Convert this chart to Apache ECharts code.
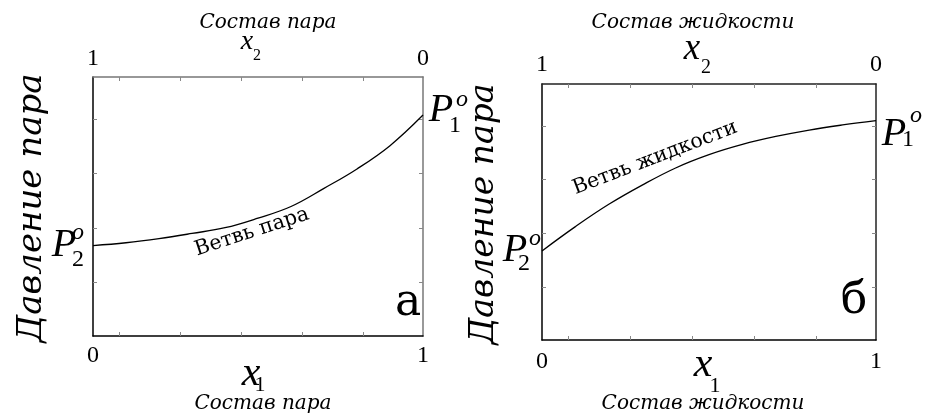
<!DOCTYPE html>
<html>
<head>
<meta charset="utf-8">
<script src="https://cdn.jsdelivr.net/npm/echarts@6/dist/echarts.min.js"></script>
<style>
  html, body { margin: 0; padding: 0; background: #fff; }
  #chart { width: 926px; height: 418px; }
</style>
</head>
<body>
<div id="chart"></div>
<script>
// Mole fraction of component 1 (x1); x2 = 1 - x1 on the top axis
const moleFraction = [0, 0.1, 0.2, 0.3, 0.4, 0.5, 0.6, 0.7, 0.8, 0.9, 1.0];
// Relative vapour pressure along the vapour branch (panel а)
const vaporBranch = [0.349, 0.360, 0.376, 0.396, 0.418, 0.455, 0.500, 0.570, 0.645, 0.735, 0.853];
// Relative vapour pressure along the liquid branch (panel б)
const liquidBranch = [0.348, 0.443, 0.530, 0.605, 0.672, 0.724, 0.764, 0.795, 0.820, 0.840, 0.857];
// Labelled ends of the composition axes
const edgeTickLabels = [0, 1];
// Minor tick marks along the frame
const bottomTicks = [0.08, 0.265, 0.45, 0.635, 0.82];
const topTicks = [0.92, 0.735, 0.55, 0.365, 0.18];
const sideTicks = [0.207, 0.417, 0.627, 0.835];

const SERIF = 'Liberation Serif';
const CYR = 'DejaVu Serif';
const chart = echarts.init(document.getElementById('chart'), null, { renderer: 'canvas' });

function xAxis(gridIndex, position, inverse, lineColor, tickVals, labelMargin) {
  return {
    type: 'value', gridIndex, position, inverse, min: 0, max: 1,
    splitLine: { show: false },
    axisLine: { show: true, onZero: false, lineStyle: { color: lineColor, width: 1.5 } },
    axisTick: { show: true, inside: true, length: 4, customValues: tickVals,
      lineStyle: { color: '#888', width: 1 } },
    axisLabel: { show: true, customValues: edgeTickLabels, margin: labelMargin,
      color: '#000', fontFamily: SERIF, fontSize: 24, formatter: v => String(v) }
  };
}
function yAxis(gridIndex, position, lineColor) {
  return {
    type: 'value', gridIndex, position, min: 0, max: 1,
    splitLine: { show: false },
    axisLine: { show: true, onZero: false, lineStyle: { color: lineColor, width: 1.5 } },
    axisTick: { show: true, inside: true, length: 4, customValues: sideTicks,
      lineStyle: { color: '#888', width: 1 } },
    axisLabel: { show: false }
  };
}

function txt(text, x, y, size, italic, family, extra) {
  return Object.assign({
    type: 'text', x, y, silent: true,
    style: { text, fontFamily: family, fontSize: size, fontStyle: italic ? 'italic' : 'normal',
             fill: '#000', textAlign: 'center', align: 'center',
             textVerticalAlign: 'middle', verticalAlign: 'middle' }
  }, extra || {});
}
const deg = d => d * Math.PI / 180;

const graphics = [
  // panel а
  txt('Состав пара', 268, 23, 20, true, CYR),
  txt('x', 247, 42, 28, true, SERIF),
  txt('2', 257, 56, 16, false, SERIF),
  txt('P', 64, 245, 40, true, SERIF),
  txt('o', 78, 233, 24, true, SERIF),
  txt('2', 78, 260, 24, false, SERIF),
  txt('P', 441, 110, 40, true, SERIF),
  txt('o', 462, 100, 24, true, SERIF),
  txt('1', 455, 126, 24, false, SERIF),
  txt('Ветвь пара', 252, 232, 20.5, false, CYR, { rotation: deg(18) }),
  txt('а', 408, 304, 44, false, CYR),
  txt('x', 251, 374, 42, true, SERIF),
  txt('1', 260, 385, 22, false, SERIF),
  txt('Состав пара', 263, 404, 20, true, CYR),
  txt('Давление пара', 32, 208, 34, true, CYR, { rotation: deg(90) }),
  // panel б
  txt('Состав жидкости', 693, 23, 20, true, CYR),
  txt('x', 692, 49, 37, true, SERIF),
  txt('2', 706, 68, 20, false, SERIF),
  txt('P', 515, 250, 40, true, SERIF),
  txt('o', 535, 239, 24, true, SERIF),
  txt('2', 524, 264, 24, false, SERIF),
  txt('P', 894, 134, 40, true, SERIF),
  txt('o', 916, 116, 24, true, SERIF),
  txt('1', 908, 140, 24, false, SERIF),
  txt('Ветвь жидкости', 655, 158, 20.5, false, CYR, { rotation: deg(21) }),
  txt('б', 854, 302, 44, false, CYR),
  txt('x', 703, 365, 42, true, SERIF),
  txt('1', 715, 386, 22, false, SERIF),
  txt('Состав жидкости', 703, 404, 20, true, CYR),
  txt('Давление пара', 484, 214, 33, true, CYR, { rotation: deg(90) })
];

chart.setOption({
  animation: false,
  backgroundColor: '#fff',
  grid: [
    { left: 93, top: 77, width: 330, height: 259, outerBoundsMode: 'none', containLabel: false },
    { left: 542, top: 84, width: 334, height: 256, outerBoundsMode: 'none', containLabel: false }
  ],
  xAxis: [
    xAxis(0, 'bottom', false, '#000', bottomTicks, 8),
    xAxis(0, 'top', true, '#777', topTicks, 6),
    xAxis(1, 'bottom', false, '#000', bottomTicks, 10),
    xAxis(1, 'top', true, '#222', topTicks, 7)
  ],
  yAxis: [
    yAxis(0, 'left', '#000'),
    yAxis(0, 'right', '#777'),
    yAxis(1, 'left', '#000'),
    yAxis(1, 'right', '#222')
  ],
  series: [
    { type: 'line', xAxisIndex: 0, yAxisIndex: 0, smooth: 0.4,
      showSymbol: false, symbol: 'none', lineStyle: { color: '#000', width: 1.3 },
      data: moleFraction.map((x, i) => [x, vaporBranch[i]]) },
    { type: 'line', xAxisIndex: 2, yAxisIndex: 2, smooth: 0.4,
      showSymbol: false, symbol: 'none', lineStyle: { color: '#000', width: 1.3 },
      data: moleFraction.map((x, i) => [x, liquidBranch[i]]) }
  ],
  graphic: graphics
});
</script>
</body>
</html>
